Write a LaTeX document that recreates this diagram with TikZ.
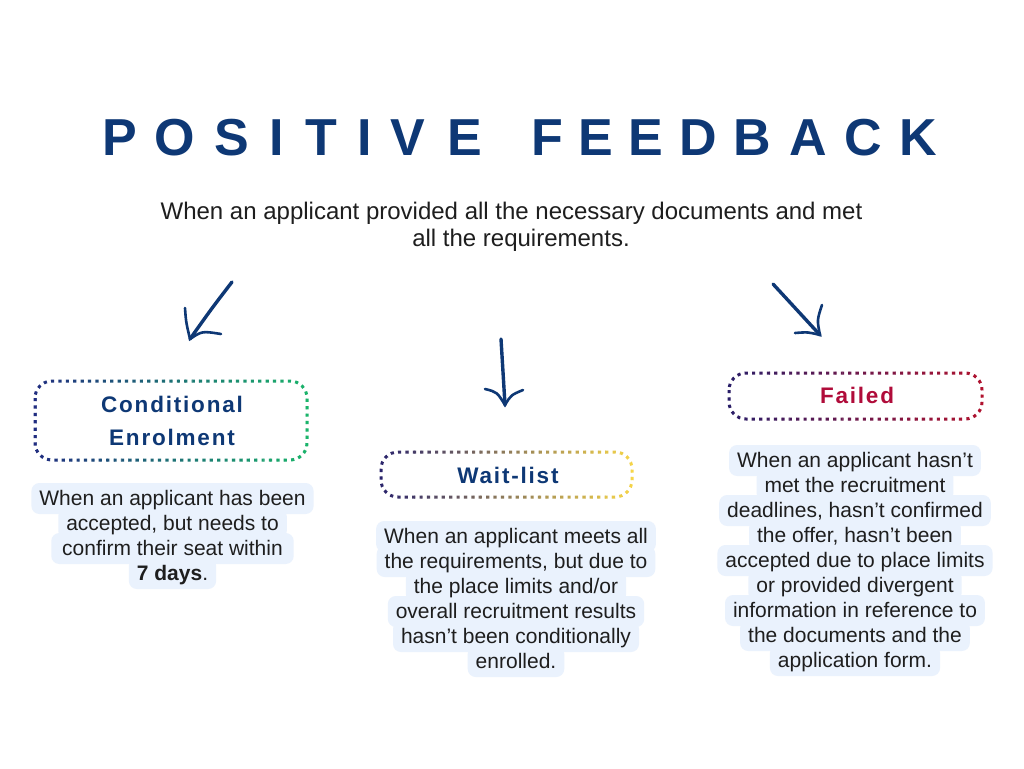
\documentclass[tikz,border=0pt]{standalone}
\usepackage{fontspec}
\setmainfont{Liberation Sans}
\definecolor{navy}{RGB}{14,56,117}
\definecolor{txt}{RGB}{30,30,30}
\definecolor{bgblue}{RGB}{234,242,253}
\definecolor{crimson}{RGB}{176,12,58}
\definecolor{dnavyA}{RGB}{32,44,128}
\definecolor{dgreen}{RGB}{26,180,106}
\definecolor{dnavyB}{RGB}{40,34,108}
\definecolor{dyellow}{RGB}{247,214,72}
\definecolor{dnavyC}{RGB}{40,30,104}
\definecolor{dred}{RGB}{178,18,46}
\tikzset{
  ttl/.style={anchor=base, inner sep=0pt, font=\fontsize{52}{60}\selectfont\bfseries, text=navy},
  sub/.style={anchor=base, inner sep=0pt, font=\fontsize{24}{28}\selectfont, text=txt},
  bgline/.style={anchor=base, fill=bgblue, rounded corners=8pt, inner xsep=8pt, inner ysep=0pt,
     text height=22pt, text depth=9pt, font=\fontsize{21}{25}\selectfont},
  txtline/.style={anchor=base, inner sep=0pt, font=\fontsize{21}{25}\selectfont, text=txt},
  hdr/.style={anchor=base, inner sep=0pt, font=\fontsize{22.5}{26}\selectfont\bfseries\addfontfeatures{LetterSpace=8}, text=navy},
  dotbox/.style={line width=3pt, dash pattern=on 3.2pt off 4.2pt, rounded corners=17pt},
  shaft/.style={draw=navy, line width=3.4pt, line cap=round},
  armline/.style={draw=navy, line width=2.6pt, line cap=round},
}
\newcommand\gradbox[6]{%
  \foreach \i in {0,...,39}{%
    \pgfmathsetmacro\pp{100*\i/39}%
    \begin{scope}
      \clip ({#1-6+(#3-#1+12)*\i/40}, #2-10) rectangle ({#1-6+(#3-#1+12)*(\i+1)/40+0.4}, #4+10);
      \draw[dotbox, draw=#6!\pp!#5] (#1,#2) rectangle (#3,#4);
    \end{scope}
  }%
}
\newcommand\blocklines[4]{%
  \foreach \t [count=\k] in {#4}{%
    \node[bgline] (#1b\k) at (#2, {#3+25*\k-25}) {\phantom{\t}};
  }%
  \foreach \t [count=\k] in {#4}{%
    \node[txtline] (#1t\k) at (#2, {#3+25*\k-25}) {\t};
  }%
}
\begin{document}
\begin{tikzpicture}[x=1pt,y=-1pt]
\fill[white] (0,0) rectangle (1024,768);
\useasboundingbox (0,0) rectangle (1024,768);

% title
\foreach \c/\x [count=\n] in {P/120,O/175,S/232,I/277,T/321,I/365,V/408,E/465,F/547,E/596,E/646,D/698,B/752,A/808,C/863,K/918}{
  \node[ttl] (tl\n) at (\x,155) {\c};
}

% subtitle
\node[sub] (sub1) at (511.5,219) {When an applicant provided all the necessary documents and met};
\node[sub] (sub2) at (521,246) {all the requirements.};

% arrows
\coordinate (a1s) at (232,282); \coordinate (a1t) at (190,339);
\coordinate (a1l) at (185,308); \coordinate (a1r) at (221,334);
\draw[shaft] (a1s) .. controls (212,308) .. (a1t);
\draw[armline] (a1l) .. controls (186,322) .. (a1t) .. controls (202,331) .. (a1r);

\coordinate (a2s) at (501,339); \coordinate (a2t) at (505,405);
\coordinate (a2l) at (485,389); \coordinate (a2r) at (523,390);
\draw[shaft] (a2s) .. controls (503,372) .. (a2t);
\draw[armline] (a2l) .. controls (497,392) .. (a2t) .. controls (511,395) .. (a2r);

\coordinate (a3s) at (773,284); \coordinate (a3t) at (820,335);
\coordinate (a3u) at (822,305); \coordinate (a3d) at (795,333);
\draw[shaft] (a3s) .. controls (797,310) .. (a3t);
\draw[armline] (a3u) .. controls (817,320) .. (a3t) .. controls (808,332) .. (a3d);

% dotted boxes
\gradbox{35}{381}{307}{460}{dnavyA}{dgreen}
\gradbox{381}{452}{632}{497}{dnavyB}{dyellow}
\gradbox{729}{373}{982}{419}{dnavyC}{dred}

% headers
\node[hdr] (h1a) at (172,412) {Conditional};
\node[hdr] (h1b) at (172,445) {Enrolment};
\node[hdr] (h2) at (508,483) {Wait-list};
\node[hdr, text=crimson] (h3) at (857,403) {Failed};

% text blocks
\blocklines{c}{172.5}{505}{When an applicant has been, {accepted, but needs to}, confirm their seat within\ , {\textbf{7 days}.}}
\blocklines{w}{516}{543}{When an applicant meets all, {the requirements, but due to}, the place limits and/or, overall recruitment results, hasn’t been conditionally, enrolled.}
\blocklines{f}{855}{467}{When an applicant hasn’t, met the recruitment, {deadlines, hasn’t confirmed}, {the offer, hasn’t been}, accepted due to place limits, or provided divergent, information in reference to, the documents and the, application form.}
\end{tikzpicture}
\end{document}
